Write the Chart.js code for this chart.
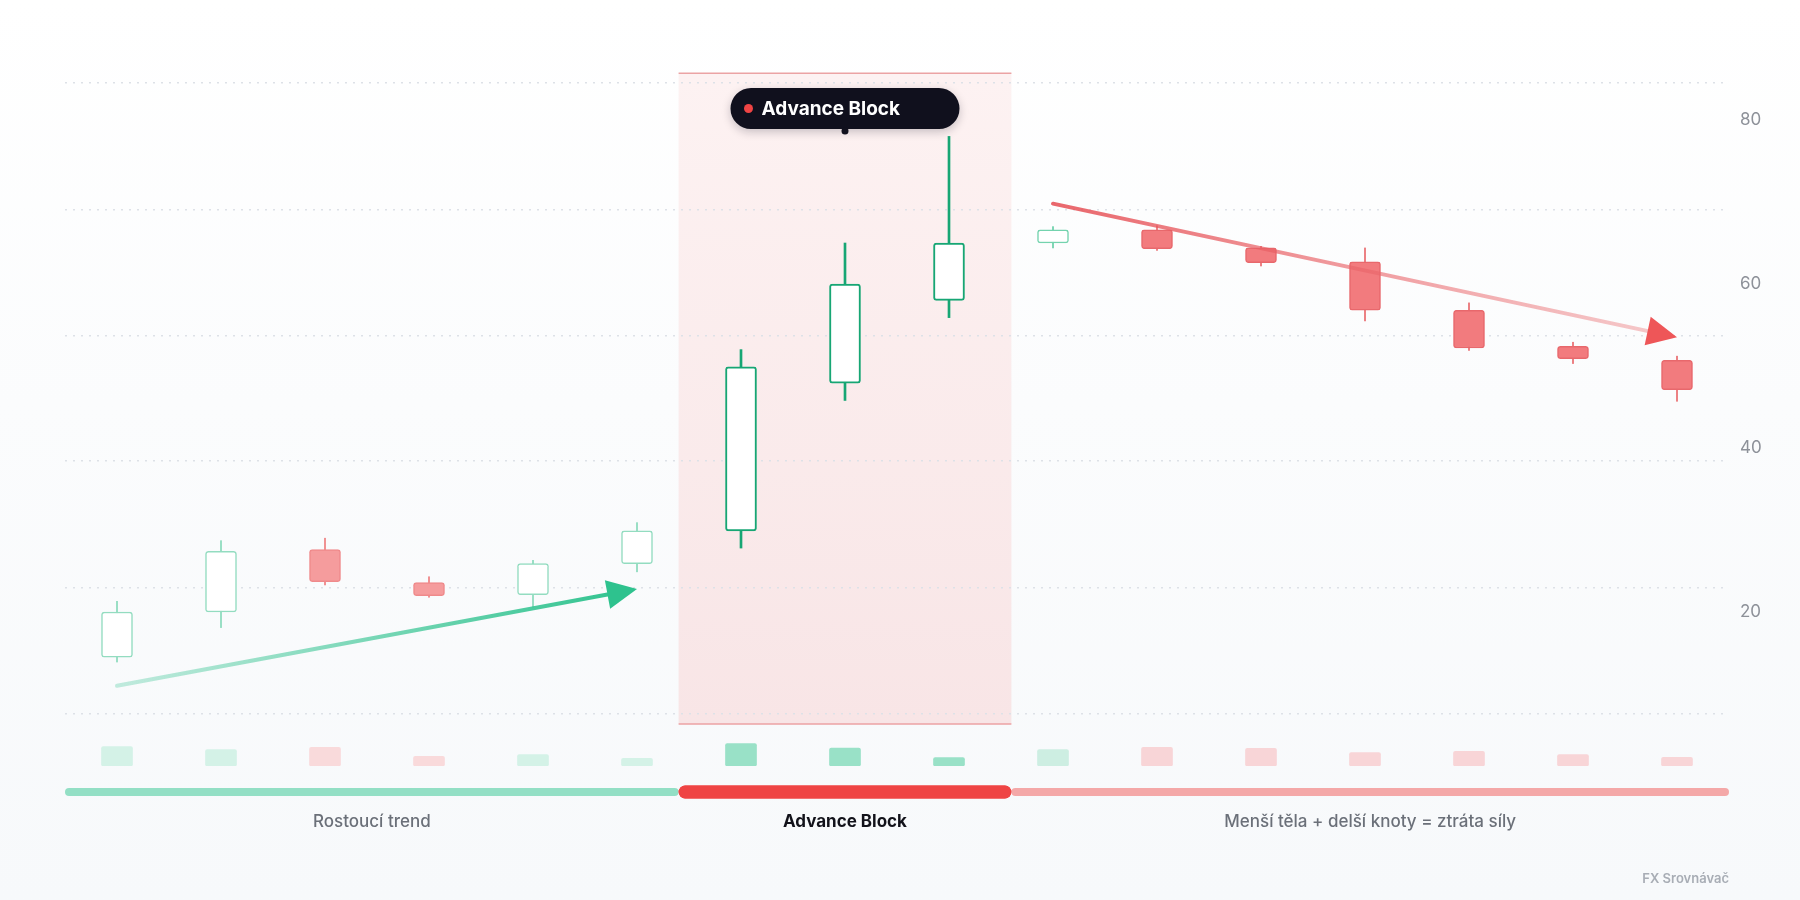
<!DOCTYPE html>
<html lang="cs">
<head>
<meta charset="UTF-8">
<title>Advance Block</title>
<script src="https://cdn.jsdelivr.net/npm/chart.js@4.4.1/dist/chart.umd.min.js"></script>
<style>
  html, body { margin: 0; padding: 0; }
  body {
    width: 1800px;
    height: 900px;
    background: linear-gradient(#ffffff 0%, #fbfcfd 45%, #f7f9fb 100%);
    font-family: Inter, sans-serif;
  }
  #myChart { display: block; }
</style>
</head>
<body>
<canvas id="myChart" width="1800" height="900" style="width:1800px;height:900px"></canvas>
<script>
// svíčky (OHLC)
const labels = ['1', '2', '3', '4', '5', '6', '7', '8', '9', '10', '11', '12', '13', '14', '15', '16'];
const opens  = [14.5, 20.0, 27.6, 23.6, 22.1, 25.9, 29.9, 47.9, 58.0, 65.0, 66.6, 64.4, 62.7, 56.8, 52.4, 50.7];
const highs  = [21.3, 28.7, 29.0, 24.3, 26.3, 30.9, 52.0, 65.0, 78.0, 67.0, 67.1, 64.6, 64.4, 57.7, 52.9, 51.2];
const lows   = [13.9, 18.1, 23.3, 21.8, 20.6, 24.9, 27.8, 45.8, 55.9, 64.4, 64.1, 62.2, 55.5, 51.9, 50.3, 45.7];
const closes = [20.0, 27.4, 23.7, 22.0, 25.9, 29.9, 49.9, 60.0, 65.0, 66.6, 64.3, 62.6, 56.8, 52.2, 50.9, 47.1];
const volumes = [194, 164, 187, 97, 114, 77, 224, 180, 84, 164, 187, 177, 134, 147, 114, 87];

// fáze grafu
const phases = ['trend', 'trend', 'trend', 'trend', 'trend', 'trend', 'block', 'block', 'block',
                'after', 'after', 'after', 'after', 'after', 'after', 'after'];
const phaseNames = ['Rostoucí trend', 'Advance Block', 'Menší těla + delší knoty = ztráta síly'];
const phaseFrom = [-0.5, 5.4, 8.6];
const phaseTo = [5.4, 8.6, 15.5];

// osa Y
const yTicks = [20, 40, 60, 80];
const gridValues = [84.5, 69.1, 53.7, 38.4, 23.0, 7.6];
const priceMin = 1.22;
const priceMax = 87.32;

// zvýrazněná zóna (hodnoty ceny)
const zoneTop = 85.7;
const zoneBottom = 6.35;

// šipky: [index svíčky, cena]
const upArrow = [[0, 11.0], [5, 22.8]];
const downArrow = [[9, 69.8], [15, 53.5]];
// štítek nad Advance Block
const badgeText = 'Advance Block';
const badgeAt = [7, 81.4];
const footerText = 'FX Srovnávač';

function isUp(i) {
  return closes[i] >= opens[i];
}

// barvy svíček podle fáze
function bodyColor(i) {
  if (isUp(i)) return '#ffffff';
  return phases[i] === 'trend' ? '#f59c9d' : '#f27b7e';
}

function edgeColor(i) {
  if (phases[i] === 'block') return '#17a674';
  if (isUp(i)) return phases[i] === 'trend' ? '#93dcc0' : '#74d3ae';
  return phases[i] === 'trend' ? '#ef8a8b' : '#e8686c';
}

function wickColor(i) {
  if (phases[i] === 'block') return '#17a674';
  if (isUp(i)) return phases[i] === 'trend' ? '#9adfc5' : '#7fd6b5';
  return phases[i] === 'trend' ? '#f09293' : '#ec8184';
}

function volumeColor(i) {
  if (phases[i] === 'block') return '#99e1c7';
  if (isUp(i)) return phases[i] === 'trend' ? '#d4f2e7' : '#cdeee2';
  return phases[i] === 'trend' ? '#f9dadb' : '#f8d5d7';
}

function drawArrow(ctx, x1, y1, x2, y2, c1, c2, headColor) {
  const ang = Math.atan2(y2 - y1, x2 - x1);
  const head = 30, half = 14.5;
  const bx = x2 - Math.cos(ang) * head;
  const by = y2 - Math.sin(ang) * head;
  const g = ctx.createLinearGradient(x1, y1, x2, y2);
  g.addColorStop(0, c1);
  g.addColorStop(1, c2);
  ctx.save();
  ctx.strokeStyle = g;
  ctx.lineWidth = 4;
  ctx.lineCap = 'round';
  ctx.beginPath();
  ctx.moveTo(x1, y1);
  ctx.lineTo(bx + Math.cos(ang) * 4, by + Math.sin(ang) * 4);
  ctx.stroke();
  ctx.fillStyle = headColor;
  ctx.beginPath();
  ctx.moveTo(x2, y2);
  ctx.lineTo(bx + Math.sin(ang) * half, by - Math.cos(ang) * half);
  ctx.lineTo(bx - Math.sin(ang) * half, by + Math.cos(ang) * half);
  ctx.closePath();
  ctx.fill();
  ctx.restore();
}

function roundRect(ctx, x, y, w, h, r) {
  ctx.beginPath();
  ctx.moveTo(x + r, y);
  ctx.arcTo(x + w, y, x + w, y + h, r);
  ctx.arcTo(x + w, y + h, x, y + h, r);
  ctx.arcTo(x, y + h, x, y, r);
  ctx.arcTo(x, y, x + w, y, r);
  ctx.closePath();
}

const decorPlugin = {
  id: 'decor',
  beforeDraw(chart) {
    // růžová zóna Advance Block
    const { ctx, scales: { x, y } } = chart;
    const left = x.getPixelForValue(phaseFrom[1]);
    const right = x.getPixelForValue(phaseTo[1]);
    const top = y.getPixelForValue(zoneTop);
    const bottom = y.getPixelForValue(zoneBottom);
    ctx.save();
    const g = ctx.createLinearGradient(0, top, 0, bottom);
    g.addColorStop(0, '#fdf2f2');
    g.addColorStop(1, '#f8e5e6');
    ctx.fillStyle = g;
    ctx.fillRect(left, top, right - left, bottom - top);
    ctx.strokeStyle = '#eba3a4';
    ctx.lineWidth = 1.5;
    ctx.beginPath();
    ctx.moveTo(left, top); ctx.lineTo(right, top);
    ctx.moveTo(left, bottom); ctx.lineTo(right, bottom);
    ctx.stroke();
    ctx.restore();
  },
  afterDatasetsDraw(chart) {
    const { ctx, scales: { x, y } } = chart;
    drawArrow(ctx,
      x.getPixelForValue(upArrow[0][0]), y.getPixelForValue(upArrow[0][1]),
      x.getPixelForValue(upArrow[1][0]), y.getPixelForValue(upArrow[1][1]),
      'rgba(46,194,142,0.28)', 'rgba(46,194,142,1)', '#2ec28e');
    drawArrow(ctx,
      x.getPixelForValue(downArrow[0][0]), y.getPixelForValue(downArrow[0][1]),
      x.getPixelForValue(downArrow[1][0]), y.getPixelForValue(downArrow[1][1]),
      'rgba(230,82,88,0.88)', 'rgba(236,120,123,0.38)', '#ee5658');
  },
  afterDraw(chart) {
    const { ctx, chartArea, scales: { x, y } } = chart;
    ctx.save();
    // pruhy fází pod grafem
    const barY = chartArea.bottom + 26;
    const barColors = ['#93dfc5', '#ef4444', '#f4a8a8'];
    const barSizes = [8, 13, 8];
    for (let i = 0; i < phaseNames.length; i++) {
      const x1 = x.getPixelForValue(phaseFrom[i]);
      const x2 = x.getPixelForValue(phaseTo[i]);
      const h = barSizes[i];
      ctx.fillStyle = barColors[i];
      roundRect(ctx, x1, barY - h / 2, x2 - x1, h, h / 2);
      ctx.fill();
    }
    // červený pruh navrch
    const rx1 = x.getPixelForValue(phaseFrom[1]);
    const rx2 = x.getPixelForValue(phaseTo[1]);
    ctx.fillStyle = barColors[1];
    roundRect(ctx, rx1, barY - 6.5, rx2 - rx1, 13, 6.5);
    ctx.fill();
    // popisky fází
    ctx.textAlign = 'center';
    ctx.textBaseline = 'middle';
    for (let i = 0; i < phaseNames.length; i++) {
      const cx = (x.getPixelForValue(phaseFrom[i]) + x.getPixelForValue(phaseTo[i])) / 2;
      ctx.font = (i === 1 ? '700' : '500') + ' 17px Inter';
      ctx.fillStyle = i === 1 ? '#12121a' : '#6b7079';
      ctx.fillText(phaseNames[i], cx, chartArea.bottom + 56);
    }
    // štítek Advance Block
    const bx = x.getPixelForValue(badgeAt[0]);
    const by = y.getPixelForValue(badgeAt[1]);
    const bw = 229, bh = 41;
    const bl = bx - bw / 2, bt = by - bh / 2;
    ctx.shadowColor = 'rgba(15,15,30,0.22)';
    ctx.shadowBlur = 10;
    ctx.shadowOffsetY = 3;
    ctx.fillStyle = '#10101d';
    roundRect(ctx, bl, bt, bw, bh, bh / 2);
    ctx.fill();
    ctx.shadowColor = 'transparent';
    ctx.beginPath();
    ctx.arc(bx, bt + bh + 2, 3.5, 0, Math.PI * 2);
    ctx.fill();
    ctx.fillStyle = '#ef4444';
    ctx.beginPath();
    ctx.arc(bl + 18, by, 4.5, 0, Math.PI * 2);
    ctx.fill();
    ctx.fillStyle = '#ffffff';
    ctx.textAlign = 'left';
    ctx.font = '700 19px Inter';
    ctx.fillText(badgeText, bl + 31, by + 1);
    // podpis
    ctx.textAlign = 'right';
    ctx.font = '600 13px Inter';
    ctx.fillStyle = '#a8adb5';
    ctx.fillText(footerText, chartArea.right, chart.height - 21);
    ctx.restore();
  }
};

const data = {
  labels: labels,
  datasets: [
    {
      // těla svíček
      type: 'bar',
      data: opens.map((o, i) => [o, closes[i]]),
      yAxisID: 'y',
      grouped: false,
      barThickness: 31,
      borderRadius: 3,
      borderSkipped: false,
      borderWidth: phases.map(p => p === 'block' ? 2 : 1.5),
      backgroundColor: labels.map((l, i) => bodyColor(i)),
      borderColor: labels.map((l, i) => edgeColor(i))
    },
    {
      // knoty - Advance Block
      type: 'bar',
      data: lows.map((l, i) => phases[i] === 'block' ? [l, highs[i]] : null),
      yAxisID: 'y',
      grouped: false,
      barThickness: 2,
      borderWidth: 0,
      backgroundColor: labels.map((l, i) => wickColor(i))
    },
    {
      // knoty - ostatní svíčky
      type: 'bar',
      data: lows.map((l, i) => phases[i] !== 'block' ? [l, highs[i]] : null),
      yAxisID: 'y',
      grouped: false,
      barThickness: 1.4,
      borderWidth: 0,
      backgroundColor: labels.map((l, i) => wickColor(i))
    },
    {
      // objem
      type: 'bar',
      data: volumes,
      yAxisID: 'yv',
      grouped: false,
      barThickness: 31,
      borderRadius: 2,
      borderSkipped: false,
      borderWidth: 0,
      backgroundColor: labels.map((l, i) => volumeColor(i))
    }
  ]
};

const config = {
  type: 'bar',
  data,
  options: {
    responsive: false,
    animation: false,
    layout: { padding: { left: 65, right: 0, top: 60, bottom: 134 } },
    plugins: { legend: { display: false }, tooltip: { enabled: false } },
    scales: {
      x: { type: 'category', offset: true, display: false },
      y: {
        position: 'right',
        min: priceMin,
        max: priceMax,
        afterFit(s) { s.width = 71; },
        afterBuildTicks(s) { s.ticks = yTicks.map(v => ({ value: v })); },
        grid: { display: false, drawTicks: false },
        border: { display: false },
        ticks: { padding: 11, color: '#8d9199', font: { family: 'Inter', size: 17 } }
      },
      yg: {
        position: 'left',
        min: priceMin,
        max: priceMax,
        afterFit(s) { s.width = 0; },
        afterBuildTicks(s) { s.ticks = gridValues.map(v => ({ value: v })); },
        ticks: { display: false },
        grid: { color: '#dde1e7', lineWidth: 1.5, drawTicks: false },
        border: { display: false, dash: [2, 6] }
      },
      yv: { display: false, min: 0, max: 7060 }
    }
  },
  plugins: [decorPlugin]
};

const myChart = new Chart(document.getElementById('myChart'), config);
</script>
</body>
</html>
